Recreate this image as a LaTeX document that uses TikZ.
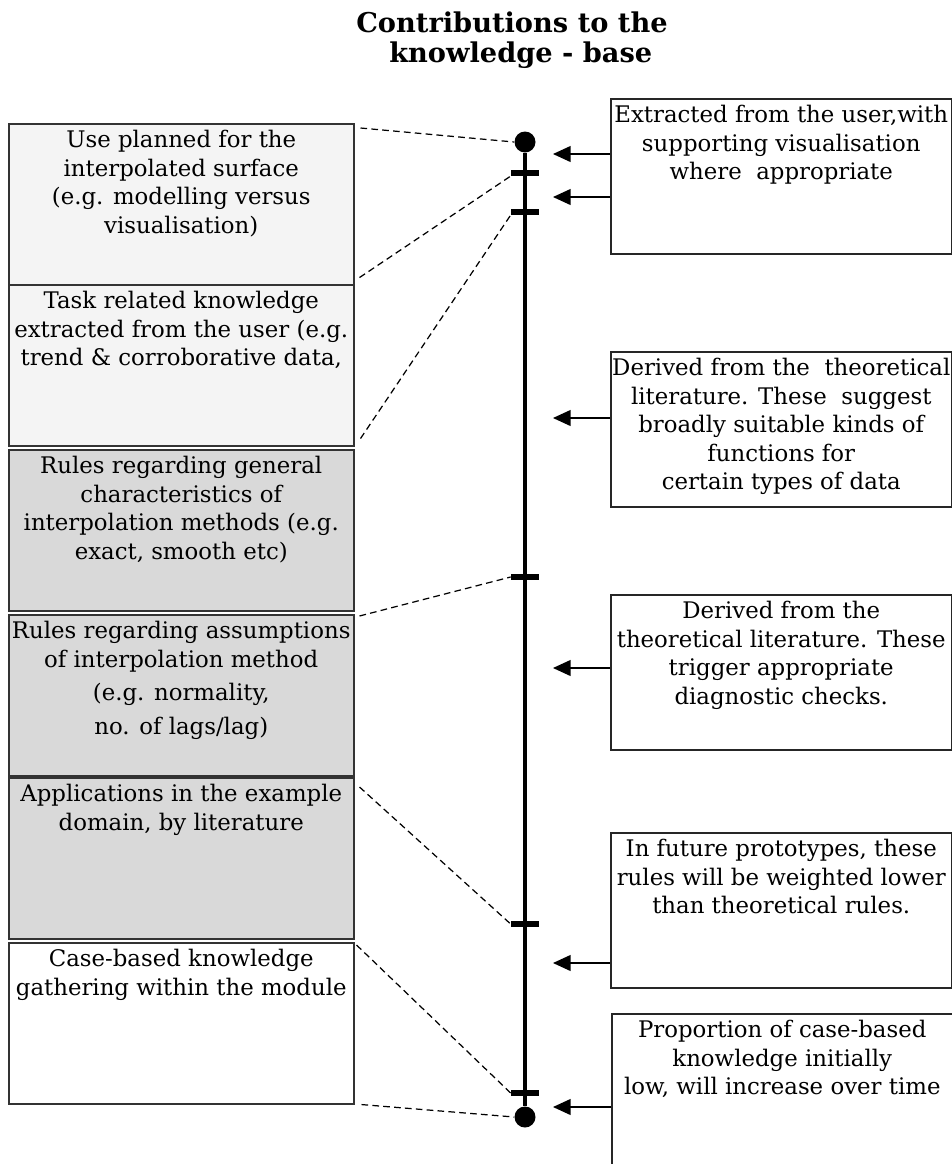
\documentclass[tikz,border=0pt]{standalone}
\usepackage{fontspec}
\setmainfont{DejaVu Serif}
\usetikzlibrary{arrows.meta,positioning,calc}

\definecolor{paleband}{HTML}{F4F4F4}
\definecolor{greyband}{HTML}{D9D9D9}

\tikzset{
  kbox/.style={draw=black!80, line width=0.9pt, anchor=north west,
    inner sep=0pt, minimum width=6.9cm, minimum height=3.22cm},
  srcbox/.style={draw=black!85, line width=0.9pt, anchor=north west,
    inner sep=0pt, minimum width=6.82cm, minimum height=3.1cm},
  ktext/.style={anchor=north, align=center, inner sep=0pt,
    font=\fontsize{13}{16.2}\selectfont},
  barmark/.style={fill=black, inner sep=0pt, minimum width=0.56cm,
    minimum height=0.11cm},
  endpoint/.style={circle, fill=black, inner sep=0pt, minimum size=0.42cm},
  link/.style={line width=0.7pt, dash pattern=on 3.8pt off 2.4pt},
  feed/.style={line width=0.8pt, -{Triangle[length=10pt,width=9pt]}}
}

\begin{document}
\begin{tikzpicture}[x=0.02cm, y=-0.02cm]
      \useasboundingbox (0,0) rectangle (952,1164);

      % Title
      \node[anchor=north, align=center, inner sep=0pt,
        font=\fontsize{15.5}{17.5}\selectfont\bfseries] (title) at (512,11)
        {Contributions to the\\ \hspace*{10pt}knowledge - base};

      % Layers of the knowledge base
      \node[kbox, fill=paleband] (use) at (8,123) {};
      \node[kbox, fill=paleband] (task) at (8,284) {};
      \node[kbox, fill=greyband] (general) at (8,449) {};
      \node[kbox, fill=greyband] (assume) at (8,614) {};
      \node[kbox, fill=greyband] (apps) at (8,777) {};
      \node[kbox, fill=white] (cases) at (8,942) {};

      \node[ktext, below=4pt of use.north] (use-t)
        {Use planned for the\\ interpolated surface\\ (e.g. modelling versus\\ visualisation)};
      \node[ktext, below=4pt of task.north] (task-t)
        {Task related knowledge\\ extracted from the user (e.g.\\ trend \& corroborative data,};
      \node[ktext, below=4pt of general.north] (general-t)
        {Rules regarding general\\ characteristics of\\ interpolation methods (e.g.\\ exact, smooth etc)};
      \node[ktext, below=4pt of assume.north] (assume-t)
        {Rules regarding assumptions\\ of interpolation method\\[3pt] (e.g. normality,\\[3pt] no. of lags/lag)};
      \node[ktext, below=4pt of apps.north] (apps-t)
        {Applications in the example\\ domain, by literature};
      \node[ktext, below=4pt of cases.north] (cases-t)
        {Case-based knowledge\\ gathering within the module};

      % Scale with its end points and marks
      \node[endpoint] (top) at (525,142) {};
      \node[endpoint] (bottom) at (525,1117) {};
      \draw[line width=2.2pt] (top) -- (bottom);
      \node[barmark] (m1) at (525,173) {};
      \node[barmark] (m2) at (525,212) {};
      \node[barmark] (m3) at (525,577) {};
      \node[barmark] (m4) at (525,924) {};
      \node[barmark] (m5) at (525,1093) {};

      % Dashed leaders from the layers
      \draw[link] ($(use.north east)+(6,5)$) -- (top.west);
      \draw[link] ($(use.south east)+(5,-8)$) -- (m1.south west);
      \draw[link] ($(task.south east)+(6,-8)$) -- (m2.south west);
      \draw[link] ($(assume.north east)+(5,2)$) -- (m3.west);
      \draw[link] ($(apps.north east)+(5,10)$) -- (m4.west);
      \draw[link] ($(cases.north east)+(2,3)$) -- (m5.west);
      \draw[link] ($(cases.south east)+(7,0)$) -- (bottom.west);

      % Sources of each contribution
      \node[srcbox] (user) at (610,98) {};
      \node[srcbox] (theory) at (610,351) {};
      \node[srcbox] (checks) at (610,594) {};
      \node[srcbox] (future) at (610,832) {};
      \node[srcbox, minimum height=3.4cm] (growth) at (611,1013) {};

      \node[ktext, below=4pt of user.north] (user-t)
        {Extracted from the user,with\\ supporting visualisation\\ where\ \ appropriate};
      \node[ktext, below=4pt of theory.north] (theory-t)
        {Derived from the\ \ theoretical\\ literature. These\ \ suggest\\ broadly suitable kinds of\\ functions for\\ certain types of data};
      \node[ktext, below=4pt of checks.north] (checks-t)
        {Derived from the\\ theoretical literature. These\\ trigger appropriate\\ diagnostic checks.};
      \node[ktext, below=4pt of future.north] (future-t)
        {In future prototypes, these\\ rules will be weighted lower\\ than theoretical rules.};
      \node[ktext, below=4pt of growth.north] (growth-t)
        {Proportion of case-based\\ knowledge initially\\ low, will increase over time};

      % Arrows into the scale
      \coordinate (p1) at (553,154);
      \coordinate (p2) at (553,197);
      \coordinate (p3) at (553,418);
      \coordinate (p4) at (553,668);
      \coordinate (p5) at (553,963);
      \coordinate (p6) at (553,1107);
      \draw[feed] (user.west |- p1) -- (p1);
      \draw[feed] (user.west |- p2) -- (p2);
      \draw[feed] (theory.west |- p3) -- (p3);
      \draw[feed] (checks.west |- p4) -- (p4);
      \draw[feed] (future.west |- p5) -- (p5);
      \draw[feed] (growth.west |- p6) -- (p6);
    \end{tikzpicture}
\end{document}
